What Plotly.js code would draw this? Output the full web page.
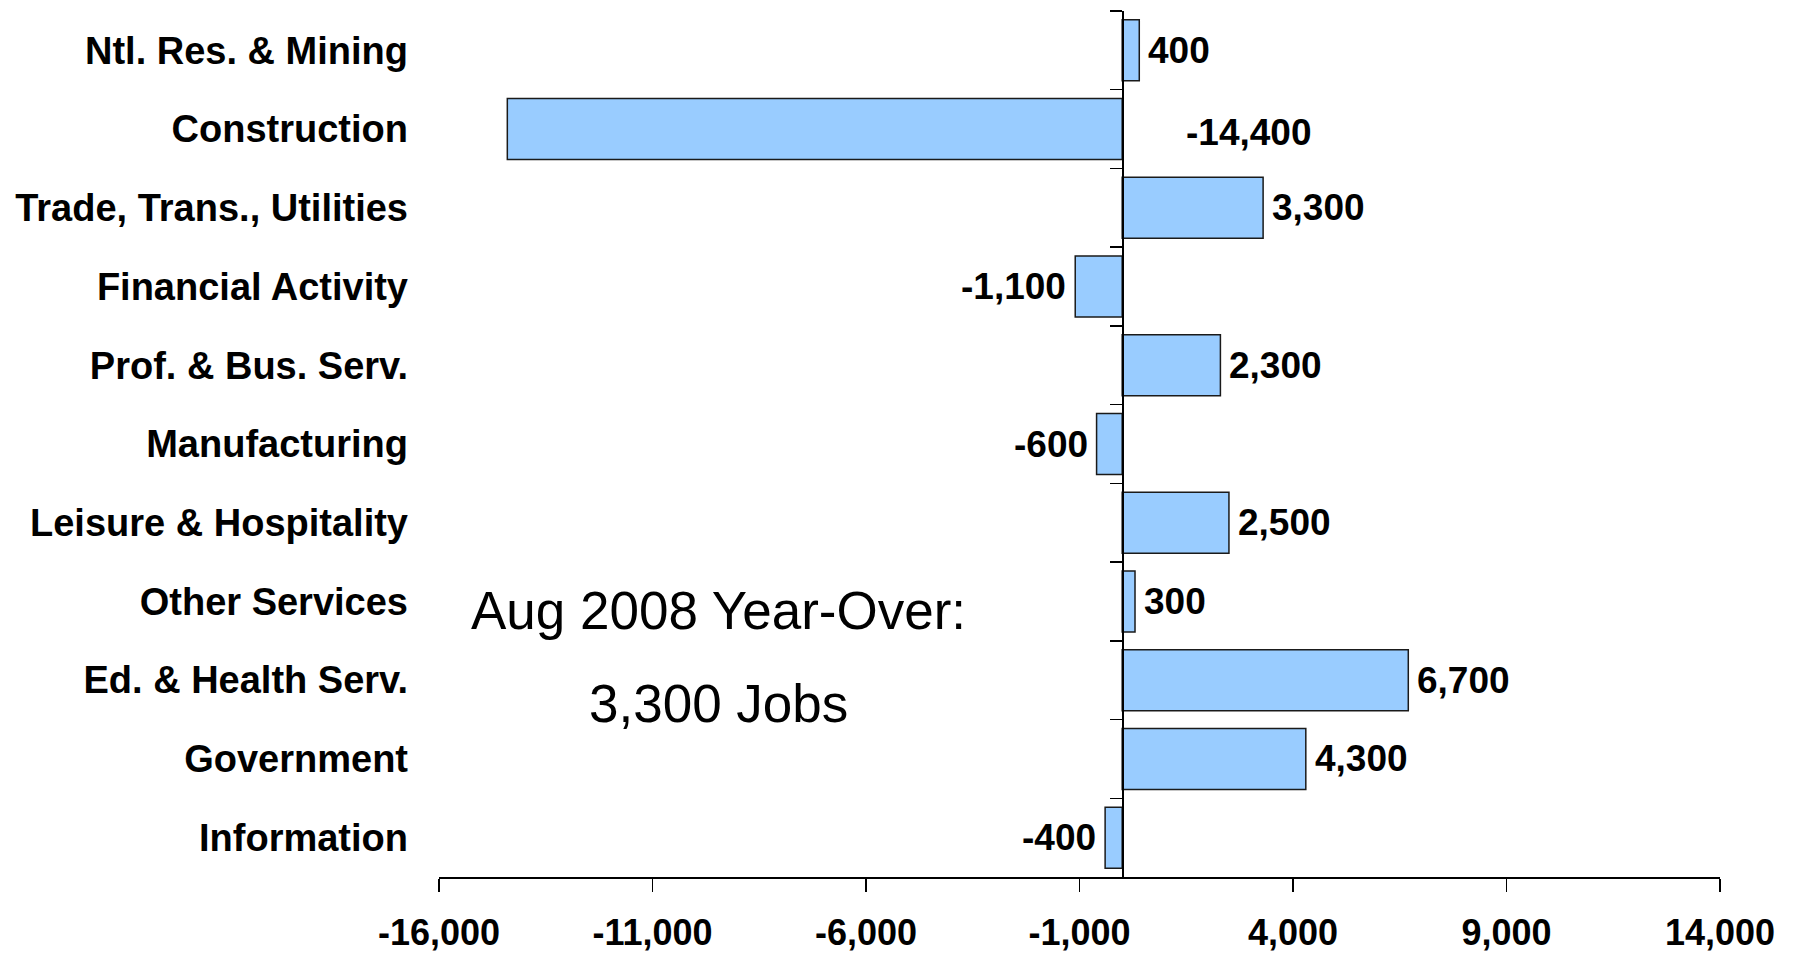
<!DOCTYPE html>
<html>
<head>
<meta charset="utf-8">
<script src="https://cdn.plot.ly/plotly-3.0.1.min.js"></script>
<style>html,body{margin:0;padding:0;background:#fff;}#chart{width:1793px;height:953px;}</style>
</head>
<body>
<div id="chart"></div>
<script>
const categories = ["Ntl. Res. & Mining", "Construction", "Trade, Trans., Utilities", "Financial Activity",
  "Prof. & Bus. Serv.", "Manufacturing", "Leisure & Hospitality", "Other Services",
  "Ed. & Health Serv.", "Government", "Information"];
const jobChange = [400, -14400, 3300, -1100, 2300, -600, 2500, 300, 6700, 4300, -400];
const xTickVals = [-16000, -11000, -6000, -1000, 4000, 9000, 14000];
const xTickLabels = ["-16,000", "-11,000", "-6,000", "-1,000", "4,000", "9,000", "14,000"];
const noteLines = ["Aug 2008 Year-Over:", "3,300 Jobs"];

const FONT = "Liberation Sans, Arial, sans-serif";
const fmt = v => v.toLocaleString("en-US");
const yRange = [categories.length - 0.5, -0.5];

const traces = [
  {
    type: "bar", orientation: "h", x: jobChange, y: categories,
    marker: {color: "#99CCFF", line: {color: "#1a1a1a", width: 1.5}},
    hoverinfo: "skip", showlegend: false
  },
  {
    type: "scatter", mode: "markers", x: jobChange, y: categories, yaxis: "y2",
    marker: {opacity: 0, size: 1}, hoverinfo: "skip", showlegend: false
  }
];

const annotations = jobChange.map((v, i) => {
  const a = {
    x: v, y: categories[i], xref: "x", yref: "y", text: fmt(v), showarrow: false,
    font: {family: FONT, size: 37, color: "#000", weight: "bold"},
    xanchor: v >= 0 ? "left" : "right", yanchor: "middle", xshift: v >= 0 ? 7 : -7
  };
  if (v < -10000) { a.x = 0; a.xanchor = "left"; a.xshift = 62; a.yshift = -3; }
  return a;
});
annotations.push(
  {x: 0.218, y: 0.308, xref: "paper", yref: "paper", text: noteLines[0], showarrow: false,
   font: {family: FONT, size: 53, color: "#000"}, xanchor: "center", yanchor: "middle"},
  {x: 0.218, y: 0.200, xref: "paper", yref: "paper", text: noteLines[1], showarrow: false,
   font: {family: FONT, size: 53, color: "#000"}, xanchor: "center", yanchor: "middle"}
);

const layout = {
  width: 1793, height: 953,
  margin: {l: 439, r: 73, t: 11, b: 76, pad: 0},
  paper_bgcolor: "#fff", plot_bgcolor: "#fff",
  bargap: 0.225,
  showlegend: false,
  xaxis: {
    range: [-16000, 14000], tickvals: xTickVals, ticktext: xTickLabels,
    showgrid: false, zeroline: false, showline: true, linecolor: "#000", linewidth: 1.5,
    ticks: "outside", ticklen: 13, tickwidth: 1.5, tickcolor: "#000",
    ticklabelstandoff: 10,
    tickfont: {family: FONT, size: 36, color: "#000", weight: "bold"}
  },
  yaxis: {
    type: "category", categoryorder: "array", categoryarray: categories, range: yRange,
    showgrid: false, zeroline: false, showline: false, ticks: "",
    ticklabelstandoff: 30,
    tickfont: {family: FONT, size: 38, color: "#000", weight: "bold"}
  },
  yaxis2: {
    type: "category", categoryorder: "array", categoryarray: categories, range: yRange,
    overlaying: "y", anchor: "free", position: 16000 / 30000, side: "left",
    showgrid: false, zeroline: false, showline: true, linecolor: "#000", linewidth: 1.5,
    ticks: "outside", ticklen: 12, tickwidth: 1.5, tickcolor: "#000", tickson: "boundaries",
    showticklabels: false
  },
  annotations: annotations
};

Plotly.newPlot("chart", traces, layout, {displayModeBar: false, staticPlot: true});
</script>
</body>
</html>
